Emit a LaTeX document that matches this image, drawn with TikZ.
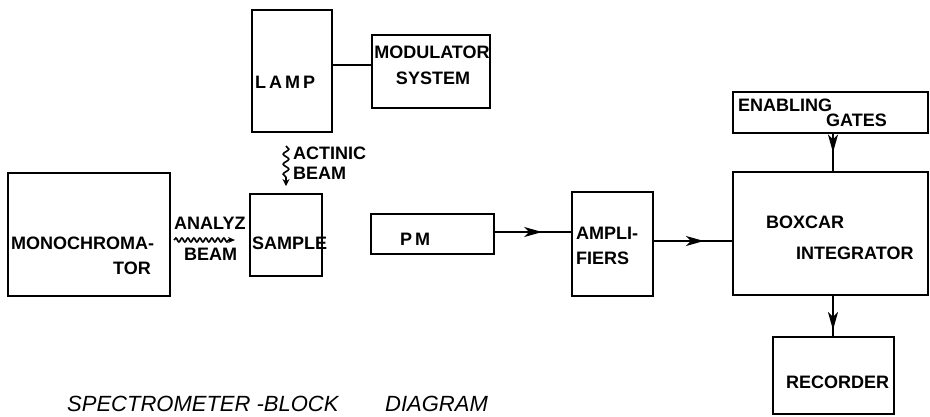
\documentclass[tikz,border=0pt]{standalone}
\usepackage{fontspec}
\setmainfont{Liberation Sans}
\usetikzlibrary{arrows.meta,decorations.markings,decorations.pathmorphing,calc}
\begin{document}
\begin{tikzpicture}[x=1pt,y=-1pt,
  blk/.style={draw,line width=2pt,rectangle,inner sep=0pt},
  lbl/.style={font=\fontsize{18}{20}\selectfont\bfseries,inner sep=0pt,anchor=west},
  conn/.style={line width=2pt},
  midarrow/.style={conn,decoration={markings,mark=at position #1 with {\arrow{Stealth[length=18pt,width=10pt,inset=5pt]}}},postaction={decorate}},
  wavy/.style={line width=1.6pt,decorate,decoration={snake,amplitude=2pt,segment length=6pt,post length=6pt}},
  wavyv/.style={line width=1.6pt,decorate,decoration={snake,amplitude=2.8pt,segment length=10pt,post length=6pt}},
  captxt/.style={inner sep=0pt,anchor=base west,font=\fontsize{22}{24}\selectfont\itshape},
]
\path[use as bounding box,fill=white] (0,0) rectangle (930,416);
\clip (0,0) rectangle (930,416);

% blocks
\node[blk,minimum width=162pt,minimum height=123pt] (mono) at (89,234.5) {};
\node[blk,minimum width=72pt,minimum height=82pt] (sample) at (286,235) {};
\node[blk,minimum width=80pt,minimum height=122pt] (lamp) at (292,71) {};
\node[blk,minimum width=118pt,minimum height=73pt] (mod) at (431,71.5) {};
\node[blk,minimum width=123pt,minimum height=40pt] (pm) at (432.5,234) {};
\node[blk,minimum width=81pt,minimum height=104pt] (amp) at (612.5,244) {};
\node[blk,minimum width=195pt,minimum height=123pt] (boxcar) at (830.5,233.5) {};
\node[blk,minimum width=195pt,minimum height=41pt] (gates) at (830.5,112.5) {};
\node[blk,minimum width=121pt,minimum height=77pt] (rec) at (833.5,375.5) {};

% labels
\node[lbl] (tmono1) at (11,243) {MONOCHROMA-};
\node[lbl,anchor=east] (tmono2) at (151,268) {TOR};
\node[lbl] (tana1) at (174,223) {ANALYZ};
\node[lbl] (tana2) at (184,254) {BEAM};
\node[lbl] (tsample) at (252,243) {SAMPLE};
\node[lbl] (tlamp) at (255,82) {L\,A\,M\,P};
\node[lbl,anchor=center] (tmod1) at (432,52) {MODULATOR};
\node[lbl,anchor=center] (tmod2) at (433,78) {SYSTEM};
\node[lbl] (tact1) at (293,153) {ACTINIC};
\node[lbl] (tact2) at (293,173) {BEAM};
\node[lbl] (tpm) at (400,239) {P\,M};
\node[lbl] (tamp1) at (576,233) {AMPLI-};
\node[lbl] (tamp2) at (576,258) {FIERS};
\node[lbl] (tgate1) at (738,105) {ENABLING};
\node[lbl] (tgate2) at (826,120) {GATES};
\node[lbl] (tbox1) at (766,222) {BOXCAR};
\node[lbl] (tbox2) at (796,253) {INTEGRATOR};
\node[lbl] (trec) at (786,382) {RECORDER};

% connectors
\draw[conn] ([yshift=6pt]lamp.east) -- ([yshift=6pt]lamp.east -| mod.west);
\draw[midarrow=0.62] ([yshift=2pt]pm.east) -- ([yshift=2pt]pm.east -| amp.west);
\draw[midarrow=0.64] ([yshift=3pt]amp.east) -- ([yshift=3pt]amp.east -| boxcar.west);
\draw[midarrow=0.5] ([xshift=2.5pt]gates.south) -- ([xshift=2.5pt]gates.south |- boxcar.north);
\draw[midarrow=0.85] ([xshift=2.5pt]boxcar.south) -- ([xshift=2.5pt]boxcar.south |- rec.north);

% wavy beams
\coordinate (wa) at (174,240);
\coordinate (wb) at (235,240);
\draw[wavy,-{Stealth[length=7pt,width=6pt]}] (wa) -- (wb);
\coordinate (va) at (286,146);
\coordinate (vb) at (286,186);
\draw[wavyv,-{Stealth[length=7pt,width=7pt]}] (va) -- (vb);

% caption
\node[captxt] (cap1) at (67,411) {SPECTROMETER -BLOCK};
\node[captxt] (cap2) at (385,411) {DIAGRAM};
\end{tikzpicture}
\end{document}
